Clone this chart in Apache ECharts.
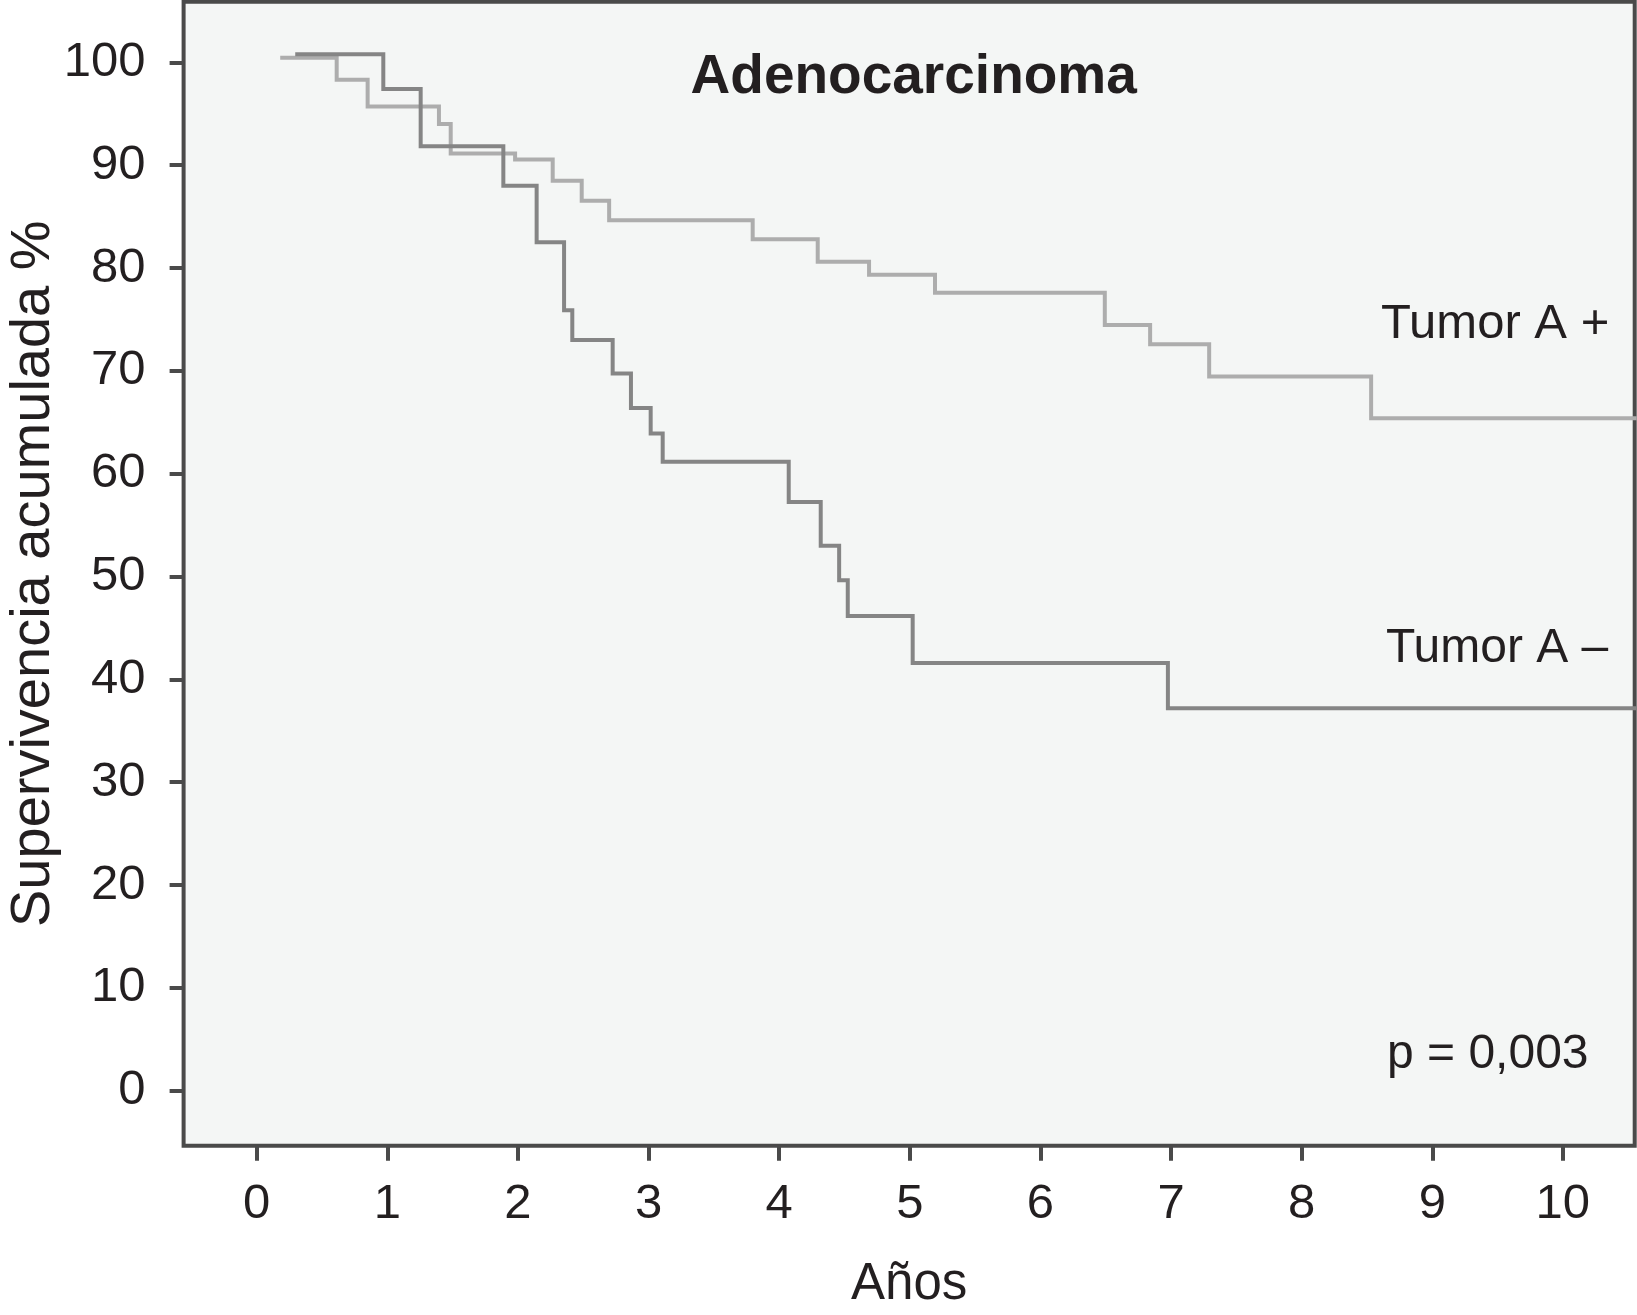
<!DOCTYPE html>
<html>
<head>
<meta charset="utf-8">
<script src="https://cdn.jsdelivr.net/npm/echarts@6/dist/echarts.min.js"></script>
<style>
html,body{margin:0;padding:0;background:#ffffff;}
#chart{width:1637px;height:1315px;}
</style>
</head>
<body>
<div id="chart"></div>
<script>
// ---- data ----
var xTicks = [0, 1, 2, 3, 4, 5, 6, 7, 8, 9, 10];
var yTicks = [0, 10, 20, 30, 40, 50, 60, 70, 80, 90, 100];

// Tumor A + (light curve): time (years) of each step and survival (%) after it
var posTimes = [0.195, 0.612, 0.849, 1.395, 1.485, 1.978, 2.266, 2.488, 2.698, 3.797, 4.295, 4.688, 5.193, 6.493, 6.840, 7.292, 8.532, 10.55];
var posSurv  = [100.45, 98.3, 95.7, 94.0, 91.15, 90.55, 88.5, 86.55, 84.65, 82.8, 80.6, 79.35, 77.6, 74.45, 72.6, 69.45, 65.4, 65.4];

// Tumor A - (dark curve)
var negTimes = [0.31, 0.969, 1.255, 1.888, 2.143, 2.353, 2.416, 2.725, 2.865, 3.016, 3.108, 4.073, 4.318, 4.459, 4.525, 5.022, 6.976, 10.55];
var negSurv  = [100.8, 97.4, 91.85, 88.0, 82.5, 75.9, 73.0, 69.75, 66.4, 63.9, 61.15, 57.25, 53.0, 49.65, 46.15, 41.6, 37.2, 37.2];

var seriesNames = ['Tumor A +', 'Tumor A \u2013'];
var chartTitle = 'Adenocarcinoma';
var xTitle = 'A\u00f1os';
var yTitle = 'Supervivencia acumulada %';
var pText = 'p = 0,003';

// ---- chart ----
var FONT = '"Liberation Sans", Arial, Helvetica, sans-serif';
var TXT = '#231f20';
var FRAME = '#4a4a4a';

var chart = echarts.init(document.getElementById('chart'), null, {renderer: 'canvas'});

function pairs(ts, vs) { return ts.map(function (t, i) { return [t, vs[i]]; }); }

var option = {
  animation: false,
  backgroundColor: '#ffffff',
  grid: {
    left: 183.6, right: 2.3, top: 1.7, bottom: 169.3,
    containLabel: false,
    outerBoundsMode: 'none',
    show: true,
    backgroundColor: '#f4f6f5',
    borderColor: FRAME,
    borderWidth: 4
  },
  xAxis: {
    type: 'value',
    min: -0.56, max: 10.55,
    name: xTitle,
    nameLocation: 'middle',
    nameGap: 114,
    nameMoveOverlap: false,
    nameTextStyle: {fontFamily: FONT, fontSize: 51, color: TXT},
    axisLine: {show: false, onZero: false},
    splitLine: {show: false},
    axisTick: {show: true, customValues: xTicks, length: 15, lineStyle: {color: FRAME, width: 4}},
    axisLabel: {customValues: xTicks, margin: 34, fontFamily: FONT, fontSize: 49, color: TXT}
  },
  yAxis: {
    type: 'value',
    min: -5.35, max: 105.9,
    name: yTitle,
    nameLocation: 'middle',
    nameRotate: 90,
    nameGap: 122,
    nameMoveOverlap: false,
    nameTextStyle: {fontFamily: FONT, fontSize: 56, color: TXT},
    axisLine: {show: false, onZero: false},
    splitLine: {show: false},
    axisTick: {show: true, customValues: yTicks, length: 14, lineStyle: {color: FRAME, width: 4}},
    axisLabel: {customValues: yTicks, margin: 38, fontFamily: FONT, fontSize: 49, color: TXT, padding: [9, 0, 0, 0]}
  },
  series: [
    {
      name: seriesNames[0], type: 'line', step: 'end', showSymbol: false, symbol: 'none',
      data: pairs(posTimes, posSurv),
      lineStyle: {color: '#adadad', width: 4, cap: 'square', join: 'miter'}
    },
    {
      name: seriesNames[1], type: 'line', step: 'end', showSymbol: false, symbol: 'none',
      data: pairs(negTimes, negSurv),
      lineStyle: {color: '#858585', width: 4, cap: 'square', join: 'miter'}
    }
  ],
  graphic: [
    {type: 'text', x: 913.7, y: 78, z: 10,
     style: {text: chartTitle, font: 'bold 55px ' + FONT, fill: TXT, textAlign: 'center', textVerticalAlign: 'middle'}},
    {type: 'text', x: 1381, y: 324.5, z: 10,
     style: {text: seriesNames[0], font: '49px ' + FONT, fill: TXT, textAlign: 'left', textVerticalAlign: 'middle'}},
    {type: 'text', x: 1386, y: 648.5, z: 10,
     style: {text: seriesNames[1], font: '48px ' + FONT, fill: TXT, textAlign: 'left', textVerticalAlign: 'middle'}},
    {type: 'text', x: 1387, y: 1055, z: 10,
     style: {text: pText, font: '48px ' + FONT, fill: TXT, textAlign: 'left', textVerticalAlign: 'middle'}}
  ]
};
chart.setOption(option);
</script>
</body>
</html>
